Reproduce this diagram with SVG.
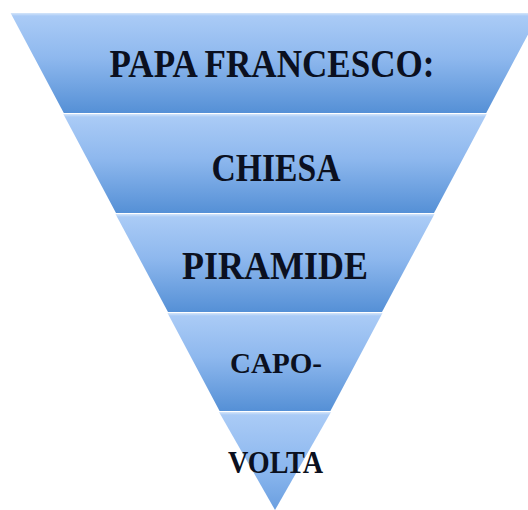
<svg xmlns="http://www.w3.org/2000/svg" width="528" height="510" viewBox="0 0 528 510">
  <defs>
    <linearGradient id="band" x1="0" y1="0" x2="0" y2="1">
      <stop offset="0" stop-color="#d4e5fa"/>
      <stop offset="0.03" stop-color="#aacbf6"/>
      <stop offset="0.45" stop-color="#8eb8ee"/>
      <stop offset="1" stop-color="#5590d6"/>
    </linearGradient>
    <linearGradient id="bandLast" x1="0" y1="0" x2="0" y2="1">
      <stop offset="0" stop-color="#d4e5fa"/>
      <stop offset="0.03" stop-color="#aacbf6"/>
      <stop offset="0.6" stop-color="#8ab6ee"/>
      <stop offset="1" stop-color="#6a9fe0"/>
    </linearGradient>
    <style>
      .band { fill: url(#band); }
      .label { font-family: "Liberation Serif", "DejaVu Serif", serif; font-weight: bold; fill: #0b1020; text-anchor: middle; }
    </style>
  </defs>
  <rect width="528" height="510" fill="#ffffff"/>
  <g id="band1">
    <polygon class="band" points="10.6,13 539.4,13 486.2,113 63.8,113"/>
    <text class="label" x="272" y="77" font-size="40" textLength="325" lengthAdjust="spacingAndGlyphs">PAPA FRANCESCO:</text>
  </g>
  <g id="band2">
    <polygon class="band" points="63.3,114 486.7,114 434,213 116,213"/>
    <text class="label" x="276" y="181" font-size="39" textLength="129" lengthAdjust="spacingAndGlyphs">CHIESA</text>
  </g>
  <g id="band3">
    <polygon class="band" points="115.5,214 434.5,214 382,312 168,312"/>
    <text class="label" x="275" y="279" font-size="41" textLength="186" lengthAdjust="spacingAndGlyphs">PIRAMIDE</text>
  </g>
  <g id="band4">
    <polygon class="band" points="167.5,313 382.5,313 330.4,411 219.6,411"/>
    <text class="label" x="276" y="373" font-size="30" textLength="92" lengthAdjust="spacingAndGlyphs">CAPO-</text>
  </g>
  <g id="band5">
    <polygon points="219,412 331,412 275,510" fill="url(#bandLast)"/>
    <text class="label" x="275.5" y="473" font-size="31" textLength="95" lengthAdjust="spacingAndGlyphs">VOLTA</text>
  </g>
  <g id="connectors"/>
</svg>
